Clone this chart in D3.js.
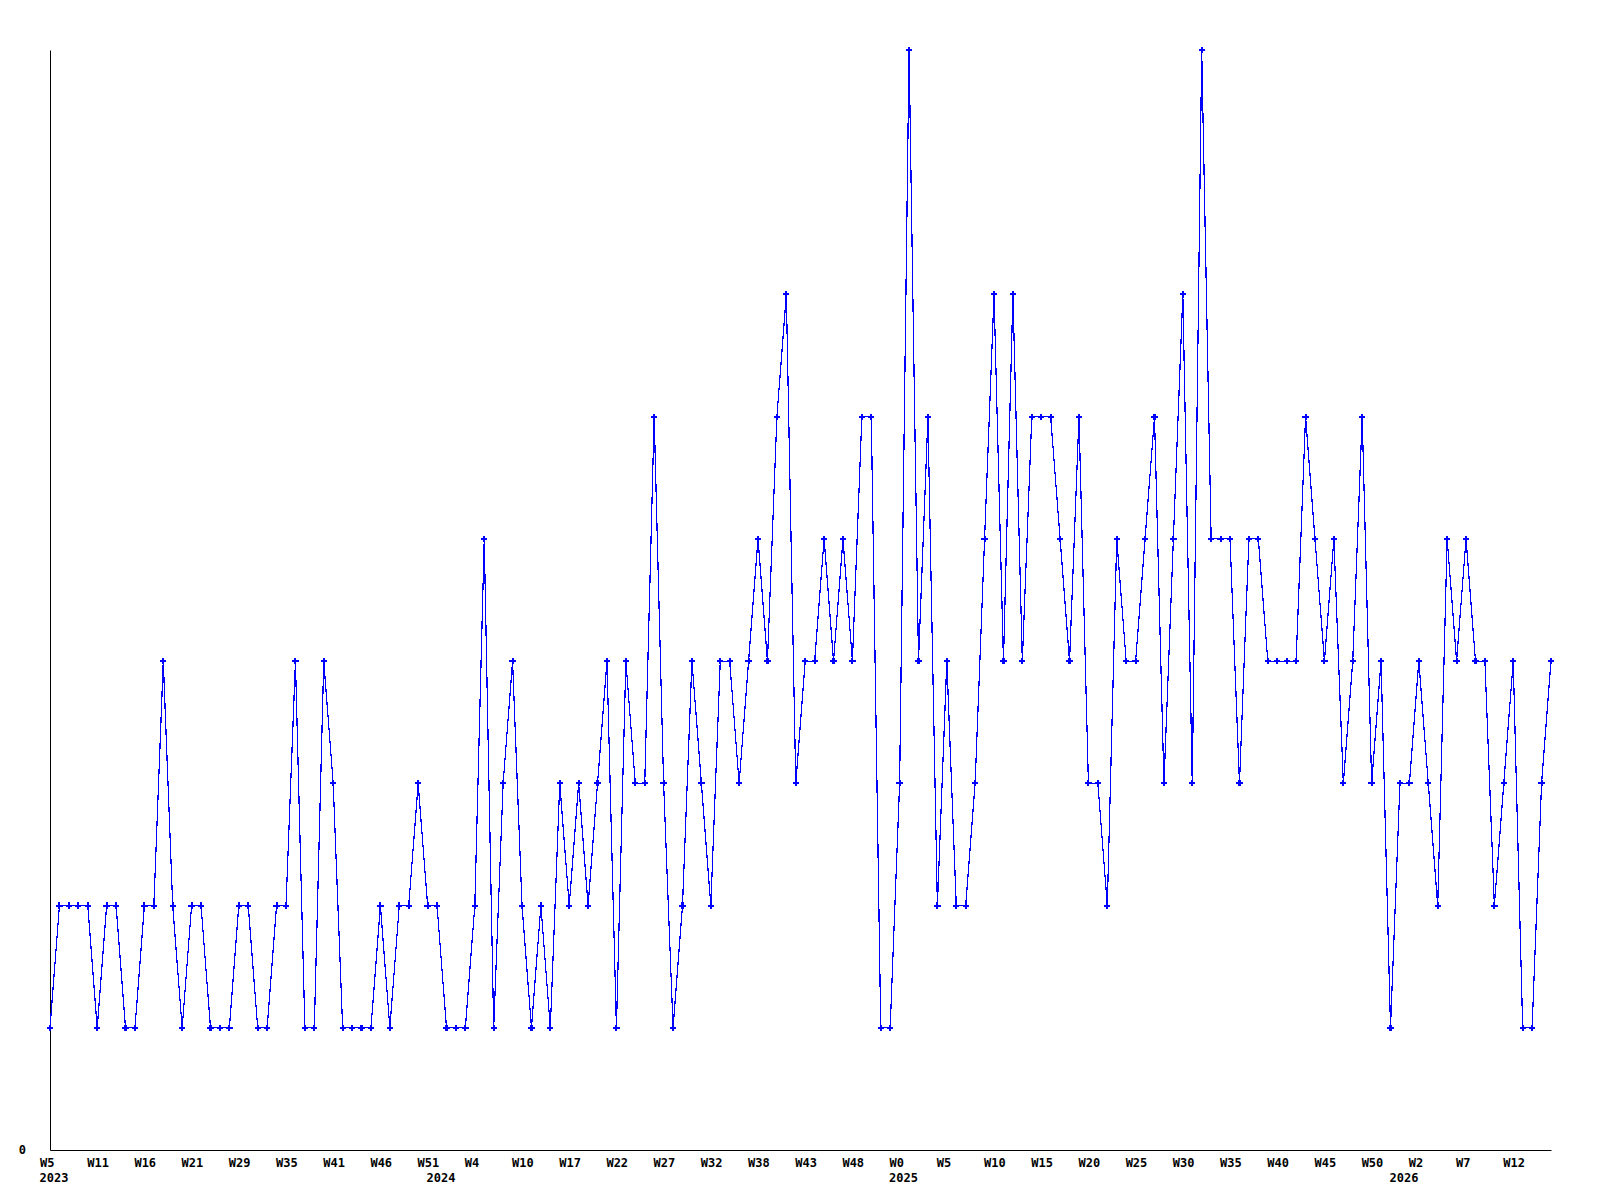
<!DOCTYPE html>
<html>
<head>
<meta charset="utf-8">
<script src="https://cdn.jsdelivr.net/npm/d3@7"></script>
<style>
  html, body { margin: 0; padding: 0; background: #fff; }
  svg text { font-family: "DejaVu Sans Mono", monospace; font-weight: bold; font-size: 12px; fill: #000; }
</style>
</head>
<body>
<svg id="chart" width="1600" height="1200"></svg>
<script>
const SVG_ID = "#chart";
const WIDTH = 1600;
const HEIGHT = 1200;
const MARGIN = { left: 50, right: 49, top: 50, bottom: 50 };

// week numbers present in the data, per year (weeks with no entries are missing)
const YEARS = [2023, 2024, 2025, 2026];
const WEEKS_2023 = [5, 6, 7, 8, 10, 11, 12, 13, 14, 15, 16, 17, 18, 19, 20, 21, 23, 25, 26, 28, 29,
  30, 31, 32, 34, 35, 36, 37, 39, 40, 41, 42, 43, 44, 45, 46, 47, 48, 49, 50, 51];
const WEEKS_2024 = [0, 1, 2, 3, 4, 5, 6, 7, 9, 10, 11, 13, 14, 16, 17, 18, 19, 20, 21, 22, 23, 24, 25,
  26, 27, 28, 29, 30, 31, 32, 33, 34, 35, 37, 38, 39, 40, 41, 42, 43, 44, 45, 46, 47, 48, 49, 50, 51, 52];
const WEEKS_2025 = [0, 1, 2, 3, 4, 5, 6, 7, 8, 9, 10, 11, 12, 13, 14, 15, 16, 17, 18, 19, 20, 21, 22,
  23, 24, 25, 26, 27, 28, 29, 30, 31, 32, 33, 34, 35, 36, 37, 38, 39, 40, 41, 42, 43, 44, 45, 46, 47,
  48, 49, 50, 51, 52];
const WEEKS_2026 = [0, 1, 2, 3, 4, 5, 6, 7, 8, 9, 10, 11, 12, 13, 14, 15, 16];

// weekly counts, in the same order as the weeks above
const COUNTS = [
  1, 2, 2, 2, 2, 1, 2, 2, 1, 1,
  2, 2, 4, 2, 1, 2, 2, 1, 1, 1,
  2, 2, 1, 1, 2, 2, 4, 1, 1, 4,
  3, 1, 1, 1, 1, 2, 1, 2, 2, 3,
  2, 2, 1, 1, 1, 2, 5, 1, 3, 4,
  2, 1, 2, 1, 3, 2, 3, 2, 3, 4,
  1, 4, 3, 3, 6, 3, 1, 2, 4, 3,
  2, 4, 4, 3, 4, 5, 4, 6, 7, 3,
  4, 4, 5, 4, 5, 4, 6, 6, 1, 1,
  3, 9, 4, 6, 2, 4, 2, 2, 3, 5,
  7, 4, 7, 4, 6, 6, 6, 5, 4, 6,
  3, 3, 2, 5, 4, 4, 5, 6, 3, 5,
  7, 3, 9, 5, 5, 5, 3, 5, 5, 4,
  4, 4, 4, 6, 5, 4, 5, 3, 4, 6,
  3, 4, 1, 3, 3, 4, 3, 2, 5, 4,
  5, 4, 4, 2, 3, 4, 1, 1, 3, 4
];

const TICK_EVERY = 5;

function buildRows() {
  const weeksByYear = [WEEKS_2023, WEEKS_2024, WEEKS_2025, WEEKS_2026];
  const rows = [];
  weeksByYear.forEach((weeks, yi) => {
    weeks.forEach((w, wi) => {
      rows.push({ key: `${YEARS[yi]}-W${w}`, year: YEARS[yi], week: w, firstOfYear: wi === 0 });
    });
  });
  rows.forEach((r, i) => { r.value = COUNTS[i]; });
  return rows;
}

function render() {
  const rows = buildRows();
  const svg = d3.select(SVG_ID);

  const x = d3.scalePoint()
    .domain(rows.map(d => d.key))
    .range([MARGIN.left, WIDTH - MARGIN.right])
    .padding(0);

  const y = d3.scaleLinear()
    .domain([0, d3.max(rows, d => d.value)])
    .range([HEIGHT - MARGIN.bottom, MARGIN.top]);

  // x axis: label every 5th point, left-offset like the original
  const byKey = new Map(rows.map(d => [d.key, d]));
  const xAxis = d3.axisBottom(x)
    .tickValues(x.domain().filter((k, i) => i % TICK_EVERY === 0))
    .tickFormat(k => `W${byKey.get(k).week}`)
    .tickSize(0)
    .tickSizeOuter(0)
    .tickPadding(8);

  const gx = svg.append("g")
    .attr("transform", `translate(0,${HEIGHT - MARGIN.bottom})`)
    .call(xAxis);
  gx.attr("font-family", null).attr("font-size", null);
  gx.select(".domain").attr("stroke", "#000");
  gx.selectAll(".tick text")
    .attr("text-anchor", "start")
    .attr("x", -10.5);

  // year row under the week labels, at the first week of each year
  gx.selectAll("text.year")
    .data(rows.filter(d => d.firstOfYear))
    .join("text")
    .attr("class", "year")
    .attr("x", d => x(d.key) - 10.5)
    .attr("y", 32)
    .attr("text-anchor", "start")
    .text(d => d.year);

  const yAxis = d3.axisLeft(y)
    .tickValues([0])
    .tickFormat(d3.format("d"))
    .tickSize(0)
    .tickSizeOuter(0)
    .tickPadding(24);

  const gy = svg.append("g")
    .attr("transform", `translate(${MARGIN.left},0)`)
    .call(yAxis);
  gy.attr("font-family", null).attr("font-size", null);
  gy.select(".domain").attr("stroke", "#000");

  const line = d3.line()
    .x(d => x(d.key))
    .y(d => y(d.value));

  svg.append("path")
    .datum(rows)
    .attr("fill", "none")
    .attr("stroke", "#0000ff")
    .attr("stroke-width", 1.2)
    .attr("shape-rendering", "crispEdges")
    .attr("d", line);

  svg.append("g")
    .selectAll("path")
    .data(rows)
    .join("path")
    .attr("transform", d => `translate(${x(d.key)},${y(d.value)})`)
    .attr("d", d3.symbol(d3.symbolCross, 22))
    .attr("fill", "#0000ff")
    .attr("shape-rendering", "crispEdges");
}

render();
</script>
</body>
</html>
